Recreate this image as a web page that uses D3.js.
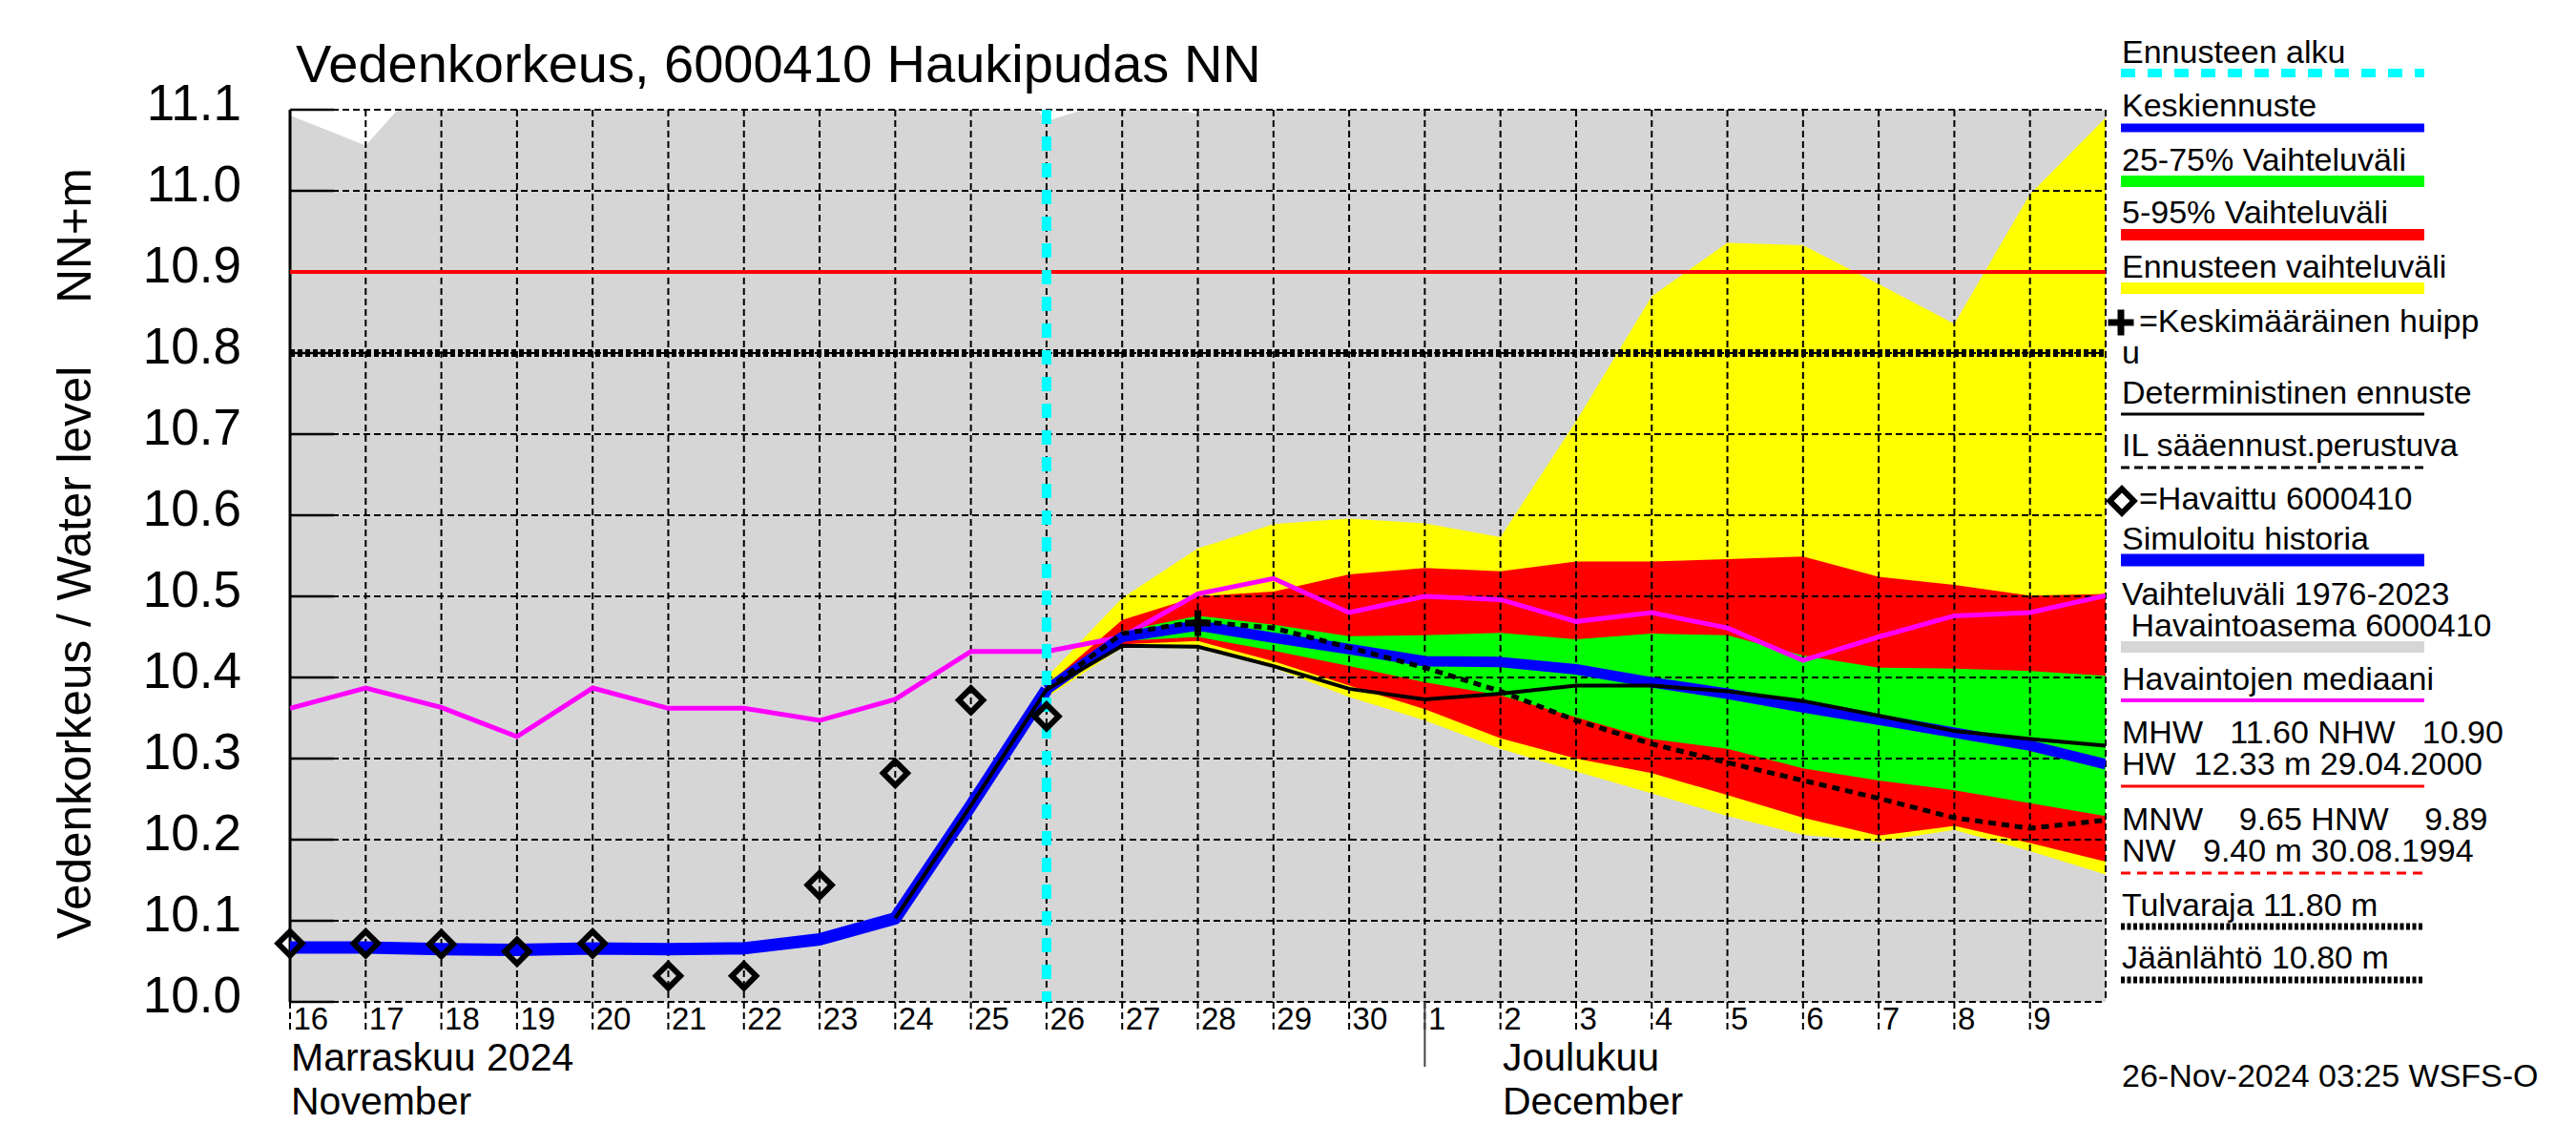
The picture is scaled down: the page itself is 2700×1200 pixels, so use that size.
<!DOCTYPE html>
<html>
<head>
<meta charset="utf-8">
<script src="https://cdn.jsdelivr.net/npm/d3@7"></script>
<style>
body { margin: 0; background: #fff; }
svg text { font-family: "Liberation Sans", Arial, sans-serif; white-space: pre; }
</style>
</head>
<body>
<svg id="chart" width="2700" height="1200"></svg>
<script>
// data (m, NN)
var histStart = "2024-11-16";
var histMax = [11.093, 11.056, 11.16, 11.30, 11.30, 11.30, 11.30, 11.30, 11.30, 11.20, 11.086, 11.115, 11.095,
               11.25, 11.30, 11.30, 11.30, 11.30, 11.30, 11.30, 11.30, 11.30, 11.30, 11.30, 11.30];
var histMin = [9.75, 9.75, 9.75, 9.75, 9.75, 9.75, 9.75, 9.75, 9.75, 9.75, 9.75, 9.75, 9.75,
               9.75, 9.75, 9.75, 9.75, 9.75, 9.75, 9.75, 9.75, 9.75, 9.75, 9.75, 9.75];
var median = [10.362, 10.387, 10.363, 10.327, 10.387, 10.362, 10.362, 10.347, 10.373, 10.432, 10.432, 10.45, 10.503,
              10.522, 10.48, 10.50, 10.496, 10.469, 10.48, 10.461, 10.421, 10.45, 10.476, 10.48, 10.501];

var obsStart = "2024-11-16";
var observed = [10.072, 10.072, 10.071, 10.062, 10.072, 10.032, 10.032, 10.144, 10.282, 10.372, 10.352];
var simulated = [10.067, 10.067, 10.065, 10.064, 10.066, 10.065, 10.066, 10.077, 10.103, 10.242, 10.385];

var fcStart = "2024-11-26";
var fcMean = [10.385, 10.45, 10.464, 10.449, 10.435, 10.42, 10.419, 10.41, 10.394, 10.38, 10.363, 10.348, 10.332, 10.316, 10.293];
var p25 = [10.385, 10.445, 10.45, 10.433, 10.414, 10.394, 10.378, 10.351, 10.324, 10.312, 10.288, 10.273, 10.261, 10.245, 10.229];
var p75 = [10.385, 10.457, 10.476, 10.465, 10.451, 10.452, 10.455, 10.447, 10.454, 10.452, 10.427, 10.412, 10.411, 10.408, 10.402];
var p05 = [10.38, 10.441, 10.445, 10.42, 10.39, 10.361, 10.325, 10.30, 10.282, 10.255, 10.227, 10.205, 10.217, 10.196, 10.173];
var p95 = [10.39, 10.471, 10.50, 10.506, 10.527, 10.535, 10.531, 10.543, 10.543, 10.546, 10.549, 10.524, 10.514, 10.501, 10.503];
var fcMin = [10.375, 10.437, 10.436, 10.412, 10.376, 10.347, 10.312, 10.284, 10.257, 10.229, 10.206, 10.198, 10.212, 10.186, 10.157];
var fcMax = [10.40, 10.498, 10.559, 10.589, 10.596, 10.59, 10.573, 10.716, 10.87, 10.936, 10.933, 10.885, 10.836, 10.996, 11.09];
var ilForecast = [10.385, 10.454, 10.469, 10.461, 10.437, 10.412, 10.383, 10.347, 10.318, 10.295, 10.273, 10.251, 10.227, 10.214, 10.224];

var detStart = "2024-11-24";
var deterministic = [10.103, 10.242, 10.385, 10.439, 10.438, 10.414, 10.386, 10.373, 10.38, 10.39, 10.39, 10.383,
                     10.371, 10.353, 10.334, 10.324, 10.316];

var peakDate = "2024-11-28", peakValue = 10.467;
var nhw = 10.90, iceBreak = 10.80;
var yTicks = [10.0, 10.1, 10.2, 10.3, 10.4, 10.5, 10.6, 10.7, 10.8, 10.9, 11.0, 11.1];

// plot box
var pLeft = 304, pRight = 2207, pTop = 115, pBottom = 1050;

var svg = d3.select("#chart");

var x = d3.scaleUtc()
    .domain([new Date(Date.UTC(2024, 10, 16)), new Date(Date.UTC(2024, 11, 10))])
    .range([pLeft, pRight]);
var y = d3.scaleLinear().domain([10.0, 11.1]).range([pBottom, pTop]);

// turn a start day + daily values into points
function daily(start, values) {
    var s = new Date(start + "T00:00:00Z");
    return values.map(function(v, i) { return {date: d3.utcDay.offset(s, i), v: v}; });
}
function band(start, lo, hi) {
    var s = new Date(start + "T00:00:00Z");
    return lo.map(function(v, i) { return {date: d3.utcDay.offset(s, i), lo: v, hi: hi[i]}; });
}

svg.append("defs").append("clipPath").attr("id", "plotclip")
    .append("rect").attr("x", pLeft).attr("y", pTop).attr("width", pRight - pLeft).attr("height", pBottom - pTop);

var bands = svg.append("g").attr("clip-path", "url(#plotclip)");
var grid = svg.append("g");
var plot = svg.append("g").attr("clip-path", "url(#plotclip)");

var area = d3.area()
    .x(function(d) { return x(d.date); })
    .y0(function(d) { return y(d.lo); })
    .y1(function(d) { return y(d.hi); });
var line = d3.line()
    .x(function(d) { return x(d.date); })
    .y(function(d) { return y(d.v); });

// bands
bands.append("path").attr("d", area(band(histStart, histMin, histMax))).attr("fill", "#d6d6d6");
bands.append("path").attr("d", area(band(fcStart, fcMin, fcMax))).attr("fill", "#ffff00");
bands.append("path").attr("d", area(band(fcStart, p05, p95))).attr("fill", "#ff0000");
bands.append("path").attr("d", area(band(fcStart, p25, p75))).attr("fill", "#00ff00");

// grid
var dayTicks = d3.utcDay.range(x.domain()[0], x.domain()[1]);
yTicks.forEach(function(t) {
    grid.append("line").attr("x1", pLeft).attr("x2", pRight).attr("y1", y(t)).attr("y2", y(t))
        .attr("stroke", "#000").attr("stroke-width", 2).attr("stroke-dasharray", "7,4");
    grid.append("line").attr("x1", pLeft).attr("x2", pLeft + 46).attr("y1", y(t)).attr("y2", y(t))
        .attr("stroke", "#000").attr("stroke-width", 2.5);
});
dayTicks.forEach(function(d) {
    grid.append("line").attr("x1", x(d)).attr("x2", x(d)).attr("y1", pTop).attr("y2", pBottom + 32)
        .attr("stroke", "#000").attr("stroke-width", 2).attr("stroke-dasharray", "7,4");
});
grid.append("line").attr("x1", pRight).attr("x2", pRight).attr("y1", pTop).attr("y2", pBottom)
    .attr("stroke", "#000").attr("stroke-width", 2).attr("stroke-dasharray", "7,4");
grid.append("line").attr("x1", pLeft).attr("x2", pLeft).attr("y1", pTop).attr("y2", pBottom)
    .attr("stroke", "#000").attr("stroke-width", 3);
// month separator
var dec1 = new Date(Date.UTC(2024, 11, 1));
grid.append("line").attr("x1", x(dec1)).attr("x2", x(dec1)).attr("y1", pBottom).attr("y2", 1118)
    .attr("stroke", "#444").attr("stroke-width", 2);

// thresholds
plot.append("line").attr("x1", pLeft).attr("x2", pRight).attr("y1", y(nhw)).attr("y2", y(nhw))
    .attr("stroke", "#ff0000").attr("stroke-width", 4);
plot.append("line").attr("x1", pLeft).attr("x2", pRight).attr("y1", y(iceBreak)).attr("y2", y(iceBreak))
    .attr("stroke", "#000").attr("stroke-width", 8).attr("stroke-dasharray", "5,3");

// lines
plot.append("path").attr("d", line(daily(histStart, median)))
    .attr("fill", "none").attr("stroke", "#ff00ff").attr("stroke-width", 5);
plot.append("path").attr("d", line(daily(obsStart, simulated)))
    .attr("fill", "none").attr("stroke", "#0000ff").attr("stroke-width", 13).attr("stroke-linejoin", "round");
plot.append("path").attr("d", line(daily(fcStart, fcMean)))
    .attr("fill", "none").attr("stroke", "#0000ff").attr("stroke-width", 11).attr("stroke-linejoin", "round");
plot.append("path").attr("d", line(daily(detStart, deterministic)))
    .attr("fill", "none").attr("stroke", "#000").attr("stroke-width", 4);
plot.append("path").attr("d", line(daily(fcStart, ilForecast)))
    .attr("fill", "none").attr("stroke", "#000").attr("stroke-width", 5).attr("stroke-dasharray", "8,6");

// forecast start
var fc0 = new Date(fcStart + "T00:00:00Z");
plot.append("line").attr("x1", x(fc0)).attr("x2", x(fc0)).attr("y1", pTop).attr("y2", pBottom)
    .attr("stroke", "#00ffff").attr("stroke-width", 10).attr("stroke-dasharray", "15,13");

// observations
var diamond = d3.symbol().type(d3.symbolSquare).size(320);
svg.append("g").selectAll("path").data(daily(obsStart, observed)).join("path")
    .attr("d", diamond)
    .attr("transform", function(d) { return "translate(" + x(d.date) + "," + y(d.v) + ") rotate(45)"; })
    .attr("fill", "none").attr("stroke", "#000").attr("stroke-width", 6);

// mean peak
var pk = new Date(peakDate + "T00:00:00Z");
svg.append("path").attr("d", "M-13.5,0H13.5M0,-13.5V13.5")
    .attr("transform", "translate(" + x(pk) + "," + y(peakValue) + ")")
    .attr("stroke", "#000").attr("stroke-width", 7);

// axes
var xAxis = svg.append("g").attr("transform", "translate(0," + pBottom + ")")
    .call(d3.axisBottom(x).tickValues(dayTicks).tickFormat(d3.utcFormat("%-d")).tickSize(0));
xAxis.select(".domain").remove();
xAxis.selectAll("text").attr("text-anchor", "start").attr("x", 3).attr("y", 29).attr("dy", 0)
    .attr("font-size", 33).attr("font-family", null).attr("fill", "#000");

var yAxis = svg.append("g").attr("transform", "translate(" + pLeft + ",0)")
    .call(d3.axisLeft(y).tickValues(yTicks).tickFormat(d3.format(".1f")).tickSize(0).tickPadding(51));
yAxis.select(".domain").remove();
yAxis.selectAll("text").attr("dy", "0.2em").attr("font-size", 53).attr("font-family", null).attr("fill", "#000");

// texts
svg.append("text").attr("x", 310).attr("y", 86).attr("font-size", 56).text("Vedenkorkeus, 6000410 Haukipudas NN");
svg.append("text").attr("transform", "translate(95,684) rotate(-90)").attr("text-anchor", "middle")
    .attr("font-size", 49.5).text("Vedenkorkeus / Water level");
svg.append("text").attr("transform", "translate(95,247) rotate(-90)").attr("text-anchor", "middle")
    .attr("font-size", 49.5).text("NN+m");
var months = [[305, 1122, "Marraskuu 2024"], [305, 1168, "November"],
              [1575, 1122, "Joulukuu"], [1575, 1168, "December"]];
months.forEach(function(m) {
    svg.append("text").attr("x", m[0]).attr("y", m[1]).attr("font-size", 41).text(m[2]);
});

// legend
var lx = 2224, lx1 = 2223, lx2 = 2541;
var lg = svg.append("g").attr("font-size", 34);
var legendText = [
    [66, "Ennusteen alku"], [122, "Keskiennuste"], [179, "25-75% Vaihteluväli"], [234, "5-95% Vaihteluväli"],
    [291, "Ennusteen vaihteluväli"], [381, "u"], [423, "Deterministinen ennuste"], [478, "IL sääennust.perustuva"],
    [576, "Simuloitu historia"], [634, "Vaihteluväli 1976-2023"], [667, " Havaintoasema 6000410"],
    [723, "Havaintojen mediaani"], [779, "MHW   11.60 NHW   10.90"], [812, "HW  12.33 m 29.04.2000"],
    [870, "MNW    9.65 HNW    9.89"], [903, "NW   9.40 m 30.08.1994"], [960, "Tulvaraja 11.80 m"],
    [1015, "Jäänlähtö 10.80 m"], [1139, "26-Nov-2024 03:25 WSFS-O"]
];
legendText.forEach(function(t) { lg.append("text").attr("x", lx).attr("y", t[0]).text(t[1]); });
lg.append("text").attr("x", 2242).attr("y", 348).text("=Keskimääräinen huipp");
lg.append("text").attr("x", 2242).attr("y", 534).text("=Havaittu 6000410");

var legendLines = [
    [76.5, "#00ffff", 9, "15,13"], [134, "#0000ff", 9, null], [190, "#00ff00", 12, null], [246, "#ff0000", 12, null],
    [302, "#ffff00", 12, null], [434, "#000", 3, null], [490, "#000", 3, "9,5"], [587, "#0000ff", 13, null],
    [678, "#d6d6d6", 12, null], [734, "#ff00ff", 4, null], [824, "#ff0000", 3, null], [915, "#ff0000", 3, "10,7"],
    [971, "#000", 7, "4,2.5"], [1027, "#000", 7, "4,2.5"]
];
legendLines.forEach(function(l) {
    lg.append("line").attr("x1", lx1).attr("x2", l[3] && l[2] == 7 ? 2539 : lx2).attr("y1", l[0]).attr("y2", l[0])
        .attr("stroke", l[1]).attr("stroke-width", l[2]).attr("stroke-dasharray", l[3]);
});
lg.append("path").attr("d", "M-13.5,0H13.5M0,-13.5V13.5").attr("transform", "translate(2223,338)")
    .attr("stroke", "#000").attr("stroke-width", 7);
lg.append("path").attr("d", diamond).attr("transform", "translate(2224,525) rotate(45)")
    .attr("fill", "none").attr("stroke", "#000").attr("stroke-width", 6);
</script>
</body>
</html>
